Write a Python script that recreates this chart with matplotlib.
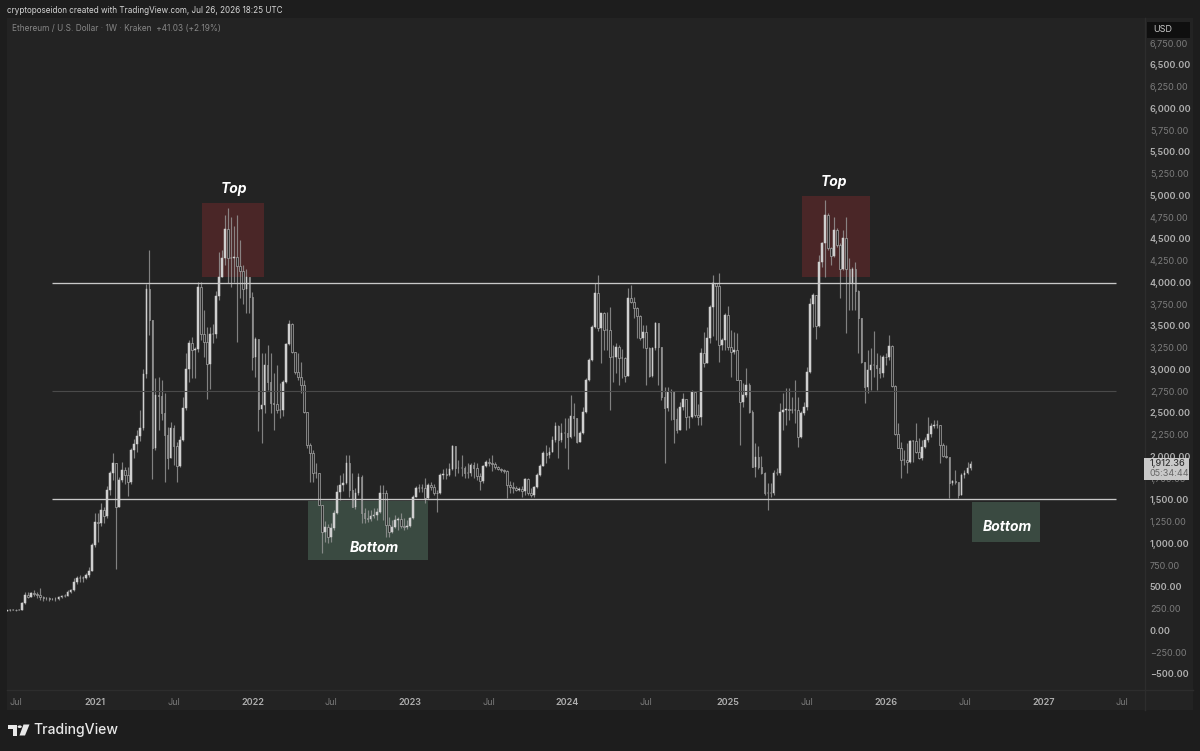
import datetime as dt
import numpy as np
import matplotlib
matplotlib.use("Agg")
import matplotlib.pyplot as plt
import matplotlib.dates as mdates
from matplotlib.patches import Rectangle, Polygon, Circle

closes = [232,235,238,232,240,314,410,390,430,420,410,390,370,371,360,360,362,380,395,400,
448,460,563,600,600,605,640,689,977,1252,1233,1386,1317,1616,1808,1930,1425,1731,1846,1788,
1712,2076,2145,2237,2325,2945,3922,3569,2095,2708,2690,2497,2248,1980,2325,2120,1892,2191,2554,3006,
3301,3225,3230,3952,3409,3320,3060,3409,3409,3845,4067,4278,4611,4278,4278,4289,4190,4136,3922,4060,
3830,3148,3347,2543,2593,3052,2861,2620,2604,2535,2535,2861,3294,3523,3206,2976,2918,2823,2516,2133,
2037,1808,1808,1444,1137,1195,1072,1176,1348,1597,1674,1700,1930,1616,1425,1585,1769,1348,1291,1279,
1317,1329,1367,1585,1580,1214,1137,1195,1272,1279,1203,1184,1206,1291,1540,1635,1635,1643,1520,1674,
1655,1586,1578,1789,1796,1789,1854,2122,1865,1865,1865,1808,1808,1904,1865,1770,1723,1896,1942,1923,
1915,1877,1858,1846,1838,1674,1655,1635,1616,1624,1609,1739,1578,1559,1655,1789,1892,2038,2019,2057,
2191,2352,2191,2267,2275,2229,2467,2440,2172,2267,2516,2880,3110,3493,3876,3474,3646,3455,3455,3148,
3148,3263,3129,3129,2926,3819,3780,3704,3616,3359,3436,3244,2926,3244,3539,3263,2689,2555,2746,2746,
2428,2306,2574,2658,2451,2451,2746,2478,2459,3186,3071,3359,3715,3991,3960,3282,3340,3627,3263,3206,
3225,2880,2631,2708,2823,2516,1884,1999,1884,1808,1578,1585,1585,1808,1808,2516,2535,2543,2535,2535,
2535,2229,2497,2566,2976,3753,3857,3500,4240,4458,4776,4393,4305,4604,4431,4152,4508,4152,3991,4152,
3903,3589,3091,2803,2995,3052,3052,3014,2957,3148,3140,3274,2811,2260,2095,1961,1961,1942,2183,2183,
2057,1980,2114,2191,2260,2351,2363,2363,2133,2007,1999,1693,1719,1712,1559,1788,1808,1865,1912]

highs = [240,245,245,242,248,330,440,445,445,460,440,486,395,385,385,375,380,395,410,415,
470,480,600,625,640,625,660,735,1000,1348,1350,1460,1420,1660,1830,2037,1903,1765,1942,1884,
1884,2100,2200,2300,2535,3000,3980,4374,3560,2899,2918,2880,2727,2344,2401,2360,2172,2230,2688,3186,
3340,3378,3262,4010,4010,3684,3493,3493,3520,3900,4354,4374,4776,4852,4757,4650,4776,4489,4200,4150,
4060,3895,3378,3263,3186,3186,3282,3186,2956,3052,2842,2880,3300,3569,3531,3206,3186,3090,2880,2516,
2152,2076,1922,1808,1444,1260,1220,1235,1386,1674,1788,1808,2018,2018,1808,1635,1808,1788,1405,1387,
1387,1405,1405,1674,1674,1616,1310,1270,1330,1310,1345,1290,1270,1310,1560,1662,1680,1685,1750,1692,
1712,1680,1620,1810,1854,1865,1923,2133,2122,1961,2018,1885,1923,1923,1942,1923,1808,1905,1960,1980,
2018,1942,1890,1865,1855,1846,1715,1712,1660,1655,1660,1750,1750,1635,1660,1810,1910,2060,2133,2114,
2230,2400,2360,2380,2440,2440,2708,2612,2440,2290,2570,2900,3130,3510,3990,4087,3650,3665,3665,3723,
3282,3302,3282,3240,3148,3933,3972,3838,3723,3627,3512,3512,3263,3260,3550,3397,3263,2804,2804,2780,
2750,2555,2630,2727,2650,2460,2760,2746,2600,3244,3435,3493,3742,4086,3980,4106,3360,3646,3730,3455,
3435,3416,2880,2842,3014,2842,2535,2152,2120,2007,1827,1693,1693,1846,1865,2612,2727,2784,2784,2689,
2880,2689,2520,2631,3033,3818,3876,3857,4316,4470,4948,4795,4412,4757,4623,4450,4603,4757,4278,4182,
4240,3914,3589,3091,3225,3244,3447,3186,3167,3167,3186,3397,3282,2823,2382,2170,2076,2152,2191,2191,
2382,2210,2191,2229,2459,2382,2420,2420,2363,2152,2133,1999,1731,1846,1712,1808,1846,1942,1953]

lows = [225,228,232,228,230,235,310,370,380,395,370,345,340,350,340,350,340,355,375,385,
395,435,455,530,560,560,590,620,680,965,1020,1200,1240,1290,1560,1730,705,1425,1712,1680,
1547,1680,1980,2050,2180,2300,2900,3400,1742,2076,2300,2420,1712,1860,1980,1900,1712,1880,2180,2530,
2861,2899,2899,3200,3340,3148,2658,2773,3300,3360,3800,4060,4200,3991,3952,4000,3320,3818,3753,3646,
3646,2995,2918,2298,2160,2497,2765,2497,2305,2497,2440,2470,2850,3280,3190,2950,2880,2727,2497,2100,
1712,1712,1750,1440,888,1022,1000,1022,1150,1340,1500,1600,1680,1540,1420,1400,1560,1240,1233,1250,
1260,1290,1270,1350,1270,1080,1080,1120,1180,1160,1180,1150,1165,1195,1280,1530,1590,1590,1463,1510,
1620,1560,1367,1570,1740,1740,1780,1850,1770,1810,1770,1750,1750,1770,1750,1730,1616,1700,1880,1890,
1830,1860,1840,1820,1810,1520,1580,1585,1600,1600,1530,1560,1560,1532,1540,1640,1780,1890,1920,1980,
2050,2170,1980,2170,2100,1854,2210,2230,2150,2170,2260,2500,2870,3100,3480,3440,3072,3225,3225,2535,
2861,2957,2823,2900,2861,2938,3760,3589,3359,3340,3244,2823,2918,2910,3225,2823,2650,1923,2520,2420,
2153,2267,2306,2530,2306,2325,2440,2455,2363,2363,3030,3260,3300,3380,3340,3091,3225,3225,3225,2918,
3180,2880,2133,2570,2689,2500,1880,1769,1860,1800,1560,1386,1540,1560,1790,1790,2305,2363,2420,2497,
2382,2114,2210,2480,2535,2957,3490,3347,3490,4174,4067,4374,4201,4297,4412,3818,4144,3416,3684,3684,
3684,3186,3071,2620,2727,2765,2918,2765,2897,2918,3052,3110,2803,2248,2095,1750,1903,1808,1923,1942,
2037,1968,1961,2095,2171,2229,2325,2325,1922,1991,1980,1520,1670,1685,1520,1556,1750,1800,1845]

level_top = 3990
level_mid = 2755
level_bottom = 1517

first_week = dt.date(2020, 6, 15)
price_ticks = list(range(-500, 7000, 250))
time_ticks = [(dt.date(2020,7,6),"Jul"),(dt.date(2021,1,4),"2021"),(dt.date(2021,7,5),"Jul"),(dt.date(2022,1,3),"2022"),
              (dt.date(2022,7,4),"Jul"),(dt.date(2023,1,2),"2023"),(dt.date(2023,7,3),"Jul"),(dt.date(2024,1,1),"2024"),
              (dt.date(2024,7,1),"Jul"),(dt.date(2025,1,6),"2025"),(dt.date(2025,7,7),"Jul"),(dt.date(2026,1,5),"2026"),
              (dt.date(2026,7,6),"Jul"),(dt.date(2027,1,4),"2027"),(dt.date(2027,7,5),"Jul")]

W, H = 1200, 751
FONT = "Inter"
fig = plt.figure(figsize=(W/100, H/100), dpi=100, facecolor="#1d1d1d")
def fx(x): return x / W
def fy(y): return 1 - y / H

BG = "#232323"
fig.add_artist(Rectangle((fx(7), fy(710)), (1193-7)/W, (710-18)/H, transform=fig.transFigure, fc=BG, ec="none", zorder=-1))

AX_L, AX_R, AX_T, AX_B = 7, 1145, 18, 690
ax = fig.add_axes([fx(AX_L), fy(AX_B), (AX_R-AX_L)/W, (AX_B-AX_T)/H], facecolor=BG)
for s in ax.spines.values():
    s.set_visible(False)
fig.add_artist(plt.Line2D([fx(1145)]*2, [fy(18), fy(710)], color="#2d2d2d", lw=1, zorder=1))
fig.add_artist(plt.Line2D([fx(7), fx(1193)], [fy(690)]*2, color="#2d2d2d", lw=1, zorder=1))

n = len(closes)
dates = [first_week + dt.timedelta(weeks=i) for i in range(n)]
x = mdates.date2num(dates)
c = np.array(closes, float)
o = np.r_[closes[0] - 5, c[:-1]]
hi = np.maximum.reduce([np.array(highs, float), o, c])
lo = np.minimum.reduce([np.array(lows, float), o, c])
up = c >= o

ax.vlines(x, lo, hi, color="#9a9a9a", lw=0.85, alpha=0.8, zorder=2)
ax.bar(x[up], (c-o)[up], bottom=o[up], width=3.9, fc="#cfcfcf", ec="#cfcfcf", lw=0.35, zorder=3)
ax.bar(x[~up], (c-o)[~up], bottom=o[~up], width=3.9, fc="#2a2a2a", ec="#a8a8a8", lw=0.5, zorder=3)

def wk(i):
    return mdates.date2num(first_week + dt.timedelta(days=7*i))

def box(i0, i1, p0, p1, col):
    ax.add_patch(Rectangle((wk(i0), p0), wk(i1)-wk(i0), p1-p0, fc=col, ec="none", zorder=1))

RED, GREEN = "#4a2627", "#3a4a41"
box(64.4, 84.9, 4063, 4914, RED)
box(262.4, 284.8, 4063, 4994, RED)
box(99.3, 139, 811, 1492, GREEN)
box(318.5, 341, 1020, 1480, GREEN)

ax.hlines([level_top, level_bottom], wk(14.85), wk(366), color="#c8c8c8", lw=0.95, zorder=4)
ax.hlines([level_mid], wk(14.85), wk(366), color="#4a4a4a", lw=0.8, zorder=4)

for i, p, t in [(75.0, 5075, "Top"), (273.0, 5160, "Top"), (121.3, 945, "Bottom"), (330, 1195, "Bottom")]:
    ax.text(wk(i), p, t, color="white", fontsize=10.0, fontweight="bold", style="italic",
            family=[FONT, "DejaVu Sans"], ha="center", va="center", zorder=5)

ax.set_xlim(wk(0), wk((AX_R-AX_L)/3.03))
ax.set_ylim(-684, 7040)

ax.yaxis.tick_right()
ax.set_yticks(price_ticks)
ax.set_yticklabels([(f"{v:,.2f}" if v >= 0 else f"\u2212{-v:,.2f}") for v in price_ticks], family=FONT, fontsize=6.5)
ax.tick_params(axis="y", length=0, pad=3.5)
for v, lab in zip(price_ticks, ax.get_yticklabels()):
    strong = v % 500 == 0
    lab.set_color("#b0b0b0" if strong else "#7c7c7c")
    lab.set_fontweight("semibold" if strong else "normal")

ax.set_xticks([mdates.date2num(d) for d, _ in time_ticks])
ax.set_xticklabels([t for _, t in time_ticks], family=FONT, fontsize=6.5)
ax.tick_params(axis="x", length=0, pad=5.5)
for (_, t), lab in zip(time_ticks, ax.get_xticklabels()):
    strong = t != "Jul"
    lab.set_color("#b0b0b0" if strong else "#7c7c7c")
    lab.set_fontweight("semibold" if strong else "normal")

def ftext(px, py, s, **kw):
    kw.setdefault("family", FONT)
    kw.setdefault("va", "center")
    fig.text(fx(px), fy(py), s, zorder=8, **kw)

ftext(7, 10.5, "cryptoposeidon created with TradingView.com, Jul 26, 2026 18:25 UTC", color="#d6d6d6", fontsize=5.85)
ftext(12, 29, "Ethereum / U.S. Dollar \u00b7 1W \u00b7 Kraken  +41.03 (+2.19%)", color="#868686", fontsize=5.95)

fig.add_artist(Rectangle((fx(1147), fy(38)), 43/W, 16/H, transform=fig.transFigure, fc="#0f0f0f", ec="none", zorder=7))
ftext(1153, 30, "USD", color="#c8c8c8", fontsize=6.5)

fig.add_artist(Rectangle((fx(1144), fy(480)), 45/W, 22/H, transform=fig.transFigure, fc="#c9c9c9", ec="none", zorder=7))
ftext(1150, 464, "1,912.36", color="#333333", fontsize=6.5, fontweight="medium")
ftext(1150, 474, "05:34:44", color="#666666", fontsize=6.5)

LOGO = "#e8e8e8"
def logo_poly(pts):
    fig.add_artist(Polygon([(fx(a), fy(b)) for a, b in pts], closed=True, transform=fig.transFigure, fc=LOGO, ec="none", zorder=7))
logo_poly([(8,724.5),(17,724.5),(17,735.5),(12.5,735.5),(12.5,729),(8,729)])
logo_poly([(23.5,724.5),(29.5,724.5),(25,735.5),(19.5,735.5)])
fig.add_artist(Circle((fx(19.7), fy(726.7)), 2.1/W, transform=fig.transFigure, fc=LOGO, ec="none", zorder=7))
ftext(33.5, 730, "TradingView", color="#e8e8e8", fontsize=10.1, fontweight="medium")

fig.savefig("out.png", dpi=100, facecolor=fig.get_facecolor())
